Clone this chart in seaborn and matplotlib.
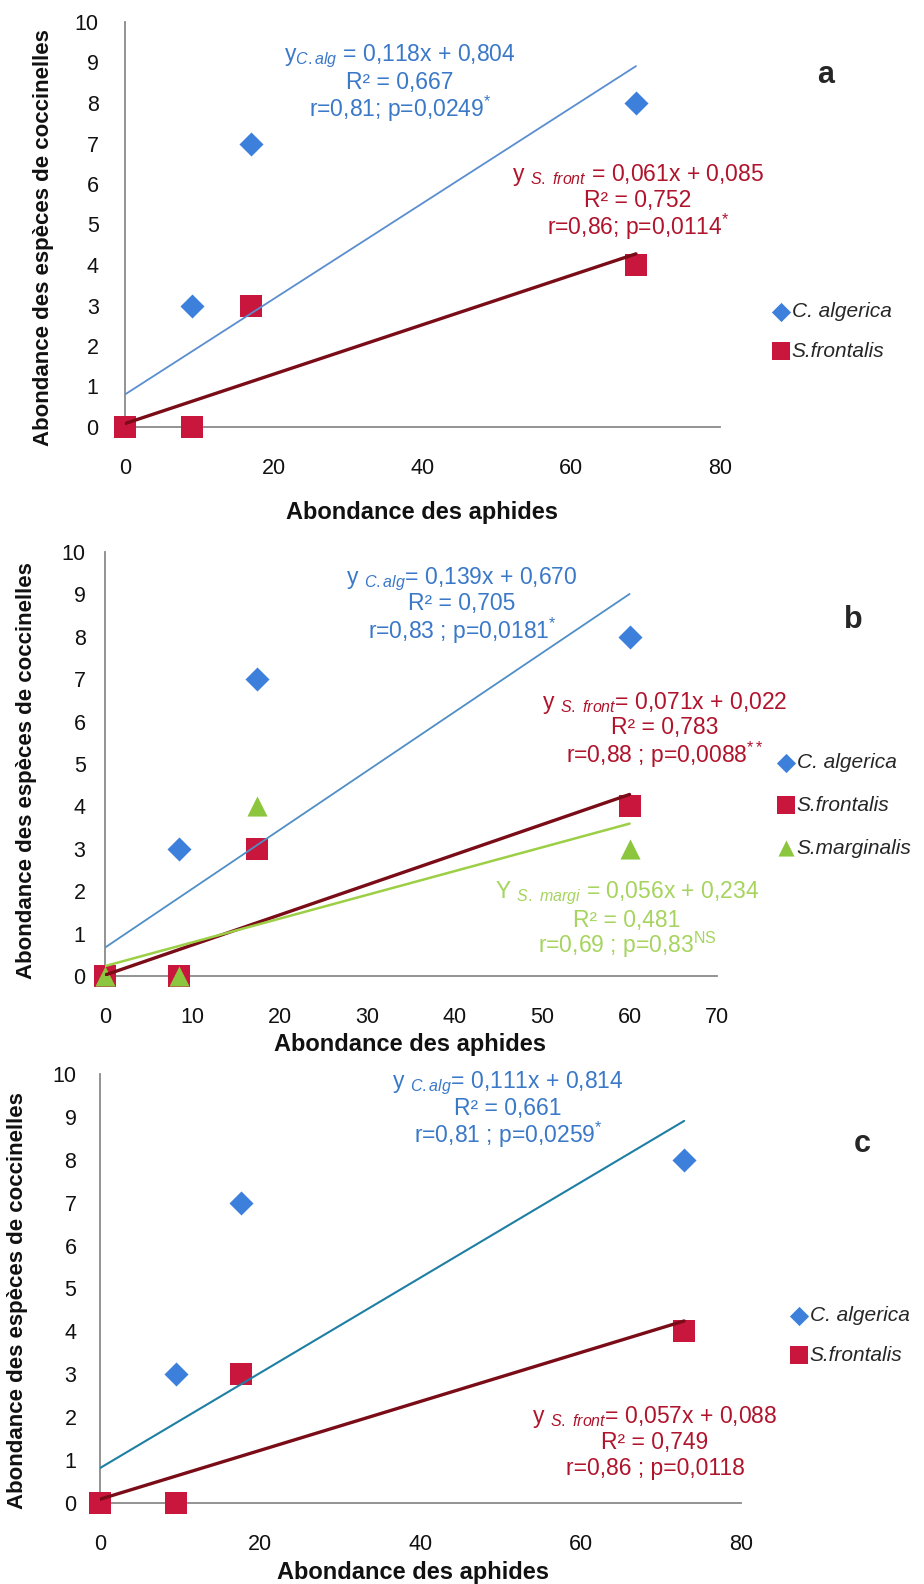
import numpy as np
import pandas as pd
import matplotlib
matplotlib.use("Agg")
import matplotlib.pyplot as plt
import seaborn as sns

# ---------------- data ----------------
species = ["C. algerica", "S.frontalis", "S.marginalis"]

# panel a
a_calg_x = [9, 17, 68.7]
a_calg_y = [3, 7, 8]
a_sfront_x = [0, 9, 17, 68.7]
a_sfront_y = [0, 0, 3, 4]
a_slopes = [0.118, 0.061]
a_intercepts = [0.804, 0.085]

# panel b
b_calg_x = [8.5, 17.4, 60]
b_calg_y = [3, 7, 8]
b_sfront_x = [0, 8.5, 17.4, 60]
b_sfront_y = [0, 0, 3, 4]
b_smarg_x = [0, 8.5, 17.4, 60]
b_smarg_y = [0, 0, 4, 3]
b_slopes = [0.139, 0.071, 0.056]
b_intercepts = [0.670, 0.022, 0.234]

# panel c
c_calg_x = [9.5, 17.6, 72.9]
c_calg_y = [3, 7, 8]
c_sfront_x = [0, 9.5, 17.6, 72.9]
c_sfront_y = [0, 0, 3, 4]
c_slopes = [0.111, 0.057]
c_intercepts = [0.814, 0.088]

x_ticks_a = [0, 20, 40, 60, 80]
x_ticks_b = [0, 10, 20, 30, 40, 50, 60, 70]
x_ticks_c = [0, 20, 40, 60, 80]
y_ticks = list(range(0, 11))

ylabel = "Abondance des espèces de coccinelles"
xlabel = "Abondance des aphides"

# ---------------- style ----------------
sns.set_theme(style="white")
plt.rcParams["font.family"] = ["Liberation Sans", "DejaVu Sans"]
plt.rcParams["mathtext.fontset"] = "custom"
plt.rcParams["mathtext.rm"] = "Liberation Sans"
plt.rcParams["mathtext.it"] = "Liberation Sans:italic"
plt.rcParams["mathtext.bf"] = "Liberation Sans:bold"

W, H = 924, 1584
fig = plt.figure(figsize=(W / 100, H / 100), dpi=100)
fig.patch.set_facecolor("white")

C_BLUE_PT = "#3d80dc"
C_BLUE_TXT = "#3a78c8"
C_RED_PT = "#c8163c"
C_RED_LINE = "#7a0c18"
C_RED_TXT = "#b0142c"
C_GREEN_PT = "#8cc63f"
C_GREEN_LINE = "#9ccf45"
C_GREEN_TXT = "#a6d45e"
SPINE = "#8a8a8a"

colors_pt = {"C. algerica": C_BLUE_PT, "S.frontalis": C_RED_PT, "S.marginalis": C_GREEN_PT}
markers = {"C. algerica": "D", "S.frontalis": "s", "S.marginalis": "^"}
msizes = {"C. algerica": 150, "S.frontalis": 270, "S.marginalis": 210}


def fx(x):
    return x / W


def fy(y):
    return 1 - y / H


def make_axes(x0, x1, ytop, ybot):
    return fig.add_axes([fx(x0), fy(ybot), (x1 - x0) / W, (ybot - ytop) / H])


def style_axes(ax, xmax, xticks, ypad):
    ax.set_xlim(0, xmax)
    ax.set_ylim(0, 10)
    ax.set_xticks(xticks)
    ax.set_yticks(y_ticks)
    ax.set_facecolor("white")
    for s in ["top", "right"]:
        ax.spines[s].set_visible(False)
    for s in ["left", "bottom"]:
        ax.spines[s].set_color(SPINE)
        ax.spines[s].set_linewidth(1.3)
    ax.tick_params(axis="both", direction="out", length=5, width=1.2, color=SPINE,
                   labelsize=15.5, labelcolor="#111111")
    ax.tick_params(axis="x", pad=17)
    ax.tick_params(axis="y", pad=ypad)
    ax.set_xlabel("")
    ax.set_ylabel("")


def draw_points(ax, name, xs, ys):
    df = pd.DataFrame({"x": xs, "y": ys, "sp": [name] * len(xs)})
    sns.scatterplot(data=df, x="x", y="y", ax=ax, marker=markers[name], s=msizes[name],
                    color=colors_pt[name], linewidth=0, label=name, clip_on=False, zorder=3)


def draw_line(ax, xs, slope, intercept, color, lw):
    lx = np.array([0, max(xs)], dtype=float)
    df = pd.DataFrame({"x": lx, "y": slope * lx + intercept})
    sns.lineplot(data=df, x="x", y="y", ax=ax, color=color, linewidth=lw, zorder=4,
                 legend=False)


def annot(x, ys, lines, color, size=16.5):
    for y, t in zip(ys, lines):
        fig.text(fx(x), fy(y), t, color=color, fontsize=size, ha="center", va="center")


def legend(ax, x, y, lspacing):
    h, l = ax.get_legend_handles_labels()
    leg = ax.legend(h, l, loc="upper left", bbox_to_anchor=(fx(x), fy(y)),
                    bbox_transform=fig.transFigure, frameon=False, borderpad=0,
                    borderaxespad=0, handlelength=0.6, handletextpad=0.2,
                    labelspacing=lspacing, markerscale=0.8,
                    prop={"style": "italic", "size": 15})
    return leg


def labels(xl_x, xl_y, yl_x, yl_y):
    fig.text(fx(xl_x), fy(xl_y), xlabel, fontsize=17, fontweight="bold",
             ha="center", va="center", color="#111111")
    fig.text(fx(yl_x), fy(yl_y), ylabel, fontsize=16, fontweight="bold",
             ha="center", va="center", rotation=90, color="#111111")


# ---------------- panel a ----------------
ax = make_axes(125, 720, 22, 427)
draw_points(ax, "C. algerica", a_calg_x, a_calg_y)
draw_points(ax, "S.frontalis", a_sfront_x, a_sfront_y)
draw_line(ax, a_calg_x, a_slopes[0], a_intercepts[0], "#5a8ed0", 1.3)
draw_line(ax, a_sfront_x, a_slopes[1], a_intercepts[1], C_RED_LINE, 2.4)
style_axes(ax, 80, x_ticks_a, 14)
legend(ax, 775, 302, 1.0)
annot(400, [56, 82, 109], [r"y$_{\mathit{C.alg}}$ = 0,118x + 0,804", "R² = 0,667",
                           r"r=0,81; p=0,0249$^{*}$"], C_BLUE_TXT)
annot(638, [175, 200, 227], [r"y $_{\mathit{S.\ front}}$ = 0,061x + 0,085", "R² = 0,752",
                             r"r=0,86; p=0,0114$^{*}$"], C_RED_TXT)
fig.text(fx(826), fy(75), "a", fontsize=22, fontweight="bold", ha="center", va="center")
labels(422, 512, 44, 238)

# ---------------- panel b ----------------
ax = make_axes(105, 717, 552, 976)
draw_points(ax, "C. algerica", b_calg_x, b_calg_y)
draw_points(ax, "S.frontalis", b_sfront_x, b_sfront_y)
draw_points(ax, "S.marginalis", b_smarg_x, b_smarg_y)
draw_line(ax, b_calg_x, b_slopes[0], b_intercepts[0], "#4f8ec6", 1.3)
draw_line(ax, b_sfront_x, b_slopes[1], b_intercepts[1], C_RED_LINE, 2.4)
draw_line(ax, b_smarg_x, b_slopes[2], b_intercepts[2], C_GREEN_LINE, 1.8)
style_axes(ax, 70, x_ticks_b, 9)
legend(ax, 780, 753, 1.15)
annot(462, [579, 604, 631], [r"y $_{\mathit{C.alg}}$= 0,139x + 0,670", "R² = 0,705",
                             r"r=0,83 ; p=0,0181$^{*}$"], C_BLUE_TXT)
annot(665, [703, 728, 755], [r"y $_{\mathit{S.\ front}}$= 0,071x + 0,022", "R² = 0,783",
                             r"r=0,88 ; p=0,0088$^{**}$"], C_RED_TXT)
annot(627, [893, 920, 945], [r"Y $_{\mathit{S.\ margi}}$ = 0,056x + 0,234", "R² = 0,481",
                             r"r=0,69 ; p=0,83$^{\mathrm{NS}}$"], C_GREEN_TXT)
fig.text(fx(853), fy(620), "b", fontsize=22, fontweight="bold", ha="center", va="center")
labels(410, 1044, 27, 771)

# ---------------- panel c ----------------
ax = make_axes(100, 741, 1074, 1503)
draw_points(ax, "C. algerica", c_calg_x, c_calg_y)
draw_points(ax, "S.frontalis", c_sfront_x, c_sfront_y)
draw_line(ax, c_calg_x, c_slopes[0], c_intercepts[0], "#1f7ea4", 1.5)
draw_line(ax, c_sfront_x, c_slopes[1], c_intercepts[1], C_RED_LINE, 2.4)
style_axes(ax, 80, x_ticks_c, 12)
legend(ax, 793, 1306, 1.0)
annot(508, [1083, 1109, 1135], [r"y $_{\mathit{C.alg}}$= 0,111x + 0,814", "R² = 0,661",
                                r"r=0,81 ; p=0,0259$^{*}$"], C_BLUE_TXT)
annot(655, [1417, 1442, 1468], [r"y $_{\mathit{S.\ front}}$= 0,057x + 0,088", "R² = 0,749",
                                "r=0,86 ; p=0,0118"], C_RED_TXT)
fig.text(fx(862), fy(1144), "c", fontsize=22, fontweight="bold", ha="center", va="center")
labels(413, 1572, 18, 1301)

fig.savefig("out.png", dpi=100, facecolor="white")
